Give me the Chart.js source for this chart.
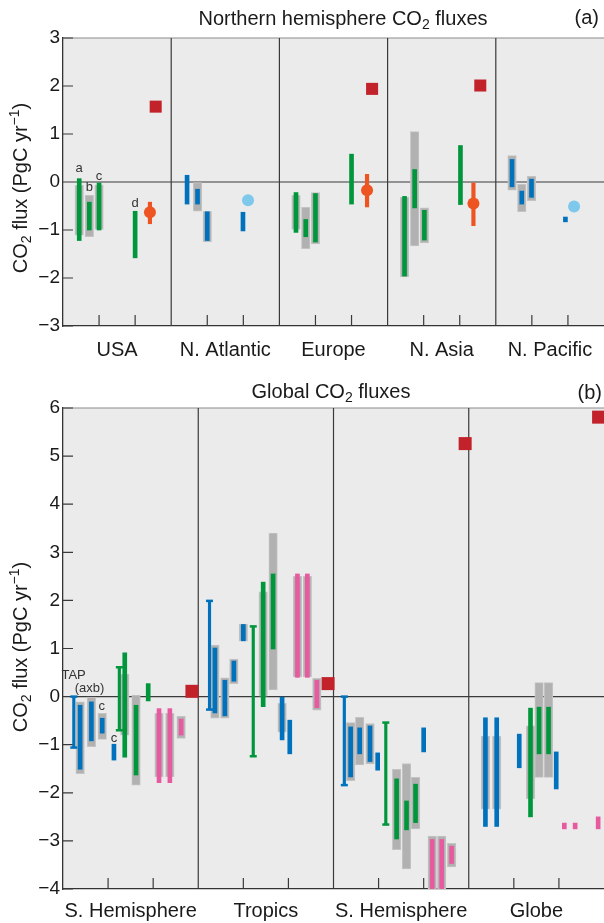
<!DOCTYPE html>
<html>
<head>
<meta charset="utf-8">
<script src="https://cdn.jsdelivr.net/npm/chart.js@4.4.1/dist/chart.umd.min.js"></script>
<style>
  body { margin: 0; background: #fff; }
  .panel { position: absolute; left: 0; width: 604px; }
  #panelA { top: 0; height: 370px; }
  #panelB { top: 370px; height: 553px; }
</style>
</head>
<body>
<div class="panel" id="panelA"><canvas id="chartA"></canvas></div>
<div class="panel" id="panelB"><canvas id="chartB"></canvas></div>
<script>
// Panel (a): rows are [x, low, high], x in thirds of a region
const regionsA = ['USA', 'N. Atlantic', 'Europe', 'N. Asia', 'N. Pacific'];
const yTicksA = [-3, -2, -1, 0, 1, 2, 3];

const grayA = [
    [0.45, -1.11, -0.07], [0.73, -1.14, -0.28], [1.0, -0.99, -0.06],
    [3.73, -0.61, 0.0], [4.0, -1.25, -0.61],
    [6.46, -0.99, -0.28], [6.73, -1.39, -0.53], [7.0, -1.29, -0.22],
    [9.47, -1.98, -0.32], [9.75, -1.33, 1.05], [10.02, -1.27, -0.54],
    [12.45, -0.17, 0.55], [12.72, -0.62, -0.05], [12.99, -0.39, 0.12]
];
const greenA = [
    [0.45, -1.22, 0.07], [0.73, -1.0, -0.42], [1.0, -1.0, -0.02], [2.0, -1.58, -0.61],
    [6.46, -1.05, -0.22], [6.73, -1.14, -0.78], [7.0, -1.25, -0.24], [8.0, -0.46, 0.58],
    [9.47, -1.96, -0.30], [9.75, -0.54, 0.26], [10.02, -1.21, -0.59], [11.02, -0.47, 0.76]
];
const blueA = [
    [3.44, -0.46, 0.14], [3.73, -0.46, -0.15], [4.0, -1.22, -0.62], [4.99, -1.02, -0.63],
    [12.45, -0.10, 0.47], [12.72, -0.46, -0.19], [12.99, -0.32, 0.06], [13.93, -0.83, -0.73]
];
// [x, value, low, high]
const orangeA = [[2.41, -0.63, -0.87, -0.42], [8.43, -0.17, -0.52, 0.16], [11.38, -0.45, -0.91, -0.02]];
// [x, value]
const redA = [[2.57, 1.57], [8.57, 1.94], [11.57, 2.01]];
const cyanA = [[5.13, -0.38], [14.17, -0.51]];
const notesA = [['a', 0.45, 0.28], ['b', 0.73, -0.11], ['c', 1.0, 0.12], ['d', 2.0, -0.44]];

// Panel (b)
const regionsB = ['S. Hemisphere', 'Tropics', 'S. Hemisphere', 'Globe'];
const yTicksB = [-4, -3, -2, -1, 0, 1, 2, 3, 4, 5, 6];

const grayB = [
    [0.38, -1.60, -0.11], [0.63, -1.04, 0.0], [0.87, -0.89, -0.35], [1.37, -0.80, 0.47], [1.62, -1.84, 0.03],
    [2.13, -1.67, -0.35], [2.37, -1.67, -0.35], [2.62, -0.87, -0.41],
    [3.37, -0.45, 1.07], [3.59, -0.45, 0.39], [3.79, 0.27, 0.78], [4.0, 1.15, 1.51],
    [4.44, 0.0, 2.18], [4.66, 0.14, 3.40], [4.86, -0.74, -0.14],
    [5.20, 0.41, 2.50], [5.42, 0.41, 2.50], [5.63, -0.28, 0.38],
    [6.38, -1.75, -0.54], [6.58, -1.42, -0.43], [6.81, -1.40, -0.56],
    [7.40, -3.18, -1.51], [7.62, -3.58, -1.39], [7.82, -2.75, -1.68],
    [8.19, -4.0, -2.90], [8.40, -4.0, -2.90], [8.62, -3.54, -3.05],
    [9.37, -2.34, -0.82], [9.62, -2.34, -0.82], [10.37, -2.12, -0.61], [10.56, -1.68, 0.29], [10.77, -1.68, 0.29]
];
const blueB = [
    [0.38, -1.51, -0.18], [0.63, -0.92, -0.11], [0.87, -0.76, -0.45], [1.13, -1.32, -0.99],
    [3.37, -0.34, 1.01], [3.59, -0.40, 0.34], [3.79, 0.32, 0.74], [4.0, 1.16, 1.50], [4.86, -0.90, 0.0], [5.03, -1.19, -0.49],
    [6.38, -1.67, -0.63], [6.58, -1.19, -0.65], [6.81, -1.35, -0.61], [6.98, -1.53, -1.17], [8.0, -1.15, -0.65],
    [9.37, -2.70, -0.44], [9.62, -2.70, -0.44], [10.12, -1.48, -0.78], [10.94, -1.92, -1.15]
];
const greenB = [
    [1.37, -1.26, 0.91], [1.62, -1.63, -0.18], [1.89, -0.09, 0.27],
    [4.44, -0.21, 2.38], [4.66, 0.99, 2.55],
    [7.40, -2.96, -1.71], [7.62, -2.77, -2.17], [7.82, -2.62, -1.82],
    [10.37, -2.50, -0.24], [10.56, -1.19, -0.22], [10.77, -1.19, -0.22]
];
const pinkB = [
    [2.13, -1.79, -0.25], [2.37, -1.79, -0.25], [2.62, -0.80, -0.47],
    [5.20, 0.40, 2.55], [5.42, 0.40, 2.55], [5.63, -0.23, 0.34],
    [8.19, -4.0, -2.97], [8.40, -4.0, -2.97], [8.62, -3.47, -3.11],
    [11.12, -2.75, -2.63], [11.36, -2.75, -2.63], [11.87, -2.75, -2.50]
];
const blueTapB = [[0.24, -1.06, 0.0], [3.25, -0.27, 1.99], [6.24, -1.84, 0.0]];
const greenTapB = [[1.25, -0.70, 0.61], [4.22, -1.24, 1.46], [7.16, -2.66, -0.54]];
const redB = [[2.86, 0.11], [5.88, 0.27], [8.92, 5.26], [11.88, 5.81]];
const notesB = [['TAP', 0.235, 0.45], ['(axb)', 0.59, 0.16], ['c', 0.86, -0.21], ['c', 1.13, -0.87]];

const FONT = '"Liberation Sans", Arial, Helvetica, sans-serif';
const INK = '#1a1a1a';
const GREEN = '#00963c';
const BLUE = '#0071bc';
const GRAY = '#b1b1b1';
const PINK = '#e85aa0';
const ORANGE = '#ee5422';
const RED = '#c2222a';
const CYAN = '#7dc8eb';

const yTitle = [{t: 'CO'}, {t: '2', sub: true}, {t: ' flux (PgC yr'}, {t: '\u22121', sup: true}, {t: ')'}];

function partFont(p, size) {
    return ((p.sub || p.sup) ? Math.round(size * 0.68) : size) + 'px ' + FONT;
}

// text with sub/superscripts
function drawRich(ctx, parts, x, y, size, align) {
    let w = 0;
    parts.forEach(p => { ctx.font = partFont(p, size); w += ctx.measureText(p.t).width; });
    let cx = align === 'center' ? x - w / 2 : (align === 'right' ? x - w : x);
    ctx.textAlign = 'left';
    ctx.textBaseline = 'alphabetic';
    parts.forEach(p => {
        ctx.font = partFont(p, size);
        const dy = p.sub ? size * 0.2 : (p.sup ? -size * 0.4 : 0);
        ctx.fillText(p.t, cx, y + dy);
        cx += ctx.measureText(p.t).width;
    });
}

const framePlugin = {
    id: 'frame',
    beforeDraw(chart) {
        const {ctx, chartArea: a} = chart;
        ctx.save();
        ctx.fillStyle = '#ebebeb';
        ctx.fillRect(a.left, a.top, a.right - a.left, a.bottom - a.top);
        ctx.restore();
    },
    beforeDatasetsDraw(chart, args, opts) {
        const {ctx, chartArea: a, scales: {x, y}} = chart;
        const n = opts.regions.length;
        ctx.save();
        ctx.strokeStyle = '#8c8c8c';
        ctx.lineWidth = 1.2;
        ctx.beginPath();
        ctx.moveTo(a.left, a.top);
        ctx.lineTo(a.right, a.top);
        ctx.stroke();

        ctx.strokeStyle = '#3a3a3a';
        ctx.lineWidth = 1.2;
        ctx.beginPath();
        for (let i = 1; i < n; i++) {
            const px = x.getPixelForValue(3 * i);
            ctx.moveTo(px, a.top);
            ctx.lineTo(px, a.bottom);
        }
        const y0 = y.getPixelForValue(0);
        ctx.moveTo(a.left, y0);
        ctx.lineTo(a.right, y0);
        // inward ticks
        y.ticks.forEach(t => {
            const py = y.getPixelForValue(t.value);
            ctx.moveTo(a.left, py);
            ctx.lineTo(a.left + 10, py);
        });
        for (let v = 1; v < 3 * n; v++) {
            if (v % 3 === 0) continue;
            const px = x.getPixelForValue(v);
            ctx.moveTo(px, a.bottom);
            ctx.lineTo(px, a.bottom - 11);
        }
        ctx.stroke();
        ctx.restore();
    },
    afterDraw(chart, args, opts) {
        const {ctx, scales: {x, y}} = chart;
        ctx.save();
        ctx.fillStyle = INK;
        drawRich(ctx, opts.title, opts.titleX, opts.titleY, 20, 'center');
        drawRich(ctx, [{t: opts.tag}], opts.tagX, opts.tagY, 20, 'right');
        opts.regions.forEach((r, i) => {
            drawRich(ctx, [{t: r}], x.getPixelForValue(3 * i + 1.5), opts.labelY, 20, 'center');
        });

        ctx.save();
        ctx.translate(27, opts.yTitleY);
        ctx.rotate(-Math.PI / 2);
        drawRich(ctx, yTitle, 0, 0, 20, 'center');
        ctx.restore();

        ctx.textAlign = 'center';
        ctx.textBaseline = 'middle';
        ctx.fillStyle = '#333';
        opts.notes.forEach(nt => {
            ctx.font = '13px ' + FONT;
            ctx.fillText(nt[0], x.getPixelForValue(nt[1]), y.getPixelForValue(nt[2]));
        });
        ctx.restore();
    }
};

function barSet(rows, color, width, order, edge) {
    return {
        type: 'bar',
        data: rows.map(r => ({x: r[0], y: [r[1], r[2]]})),
        backgroundColor: color,
        borderColor: edge || color,
        borderWidth: edge ? 1 : 0,
        borderSkipped: false,
        barThickness: width,
        stack: 'all',
        order: order
    };
}

function pointSet(rows, color, style, radius, order) {
    return {
        type: 'scatter',
        data: rows.map(r => ({x: r[0], y: r[1]})),
        pointStyle: style,
        pointRadius: radius,
        backgroundColor: color,
        borderColor: color,
        borderWidth: 0,
        order: order
    };
}

function capSet(rows, color, order) {
    return {
        type: 'scatter',
        data: rows.flatMap(r => [{x: r[0], y: r[1]}, {x: r[0], y: r[2]}]),
        pointStyle: 'line',
        pointRadius: 3.5,
        borderColor: color,
        borderWidth: 2.5,
        order: order
    };
}

function makeOptions(regions, yTicks, xHeight, frame) {
    return {
        responsive: true,
        maintainAspectRatio: false,
        animation: false,
        events: [],
        layout: { autoPadding: false, padding: { top: 38, left: 0, right: 0, bottom: 0 } },
        plugins: {
            legend: { display: false },
            tooltip: { enabled: false },
            frame: Object.assign({ regions: regions }, frame)
        },
        scales: {
            x: {
                type: 'linear',
                min: 0,
                max: regions.length * 3,
                offset: false,
                ticks: { display: false },
                grid: { drawOnChartArea: false, drawTicks: false },
                border: { display: true, color: '#333', width: 1.3 },
                afterFit: s => { s.height = xHeight; }
            },
            y: {
                type: 'linear',
                min: yTicks[0],
                max: yTicks[yTicks.length - 1],
                stacked: false,
                afterBuildTicks: s => { s.ticks = yTicks.map(v => ({value: v})); },
                ticks: {
                    color: INK,
                    padding: 3,
                    font: { family: FONT, size: 19 },
                    callback: v => v < 0 ? '\u2212' + (-v) : String(v)
                },
                grid: { drawOnChartArea: false, drawTicks: false },
                border: { display: true, color: '#333', width: 1.3 },
                afterFit: s => { s.width = 63; }
            }
        }
    };
}

new Chart(document.getElementById('chartA'), {
    type: 'bar',
    data: {
        datasets: [
            barSet(grayA, GRAY, 8.5, 5, '#c4c4c4'),
            barSet(greenA, GREEN, 4, 4),
            barSet(blueA, BLUE, 4, 4),
            barSet(orangeA.map(r => [r[0], r[2], r[3]]), ORANGE, 3.5, 3),
            pointSet(orangeA, ORANGE, 'circle', 6, 2),
            pointSet(redA, RED, 'rect', 8.5, 2),
            pointSet(cyanA, CYAN, 'circle', 6, 2)
        ]
    },
    options: makeOptions(regionsA, yTicksA, 44, {
        title: [{t: 'Northern hemisphere CO'}, {t: '2', sub: true}, {t: ' fluxes'}],
        titleX: 343, titleY: 25,
        tag: '(a)', tagX: 599, tagY: 24,
        labelY: 356,
        yTitleY: 188,
        notes: notesA
    }),
    plugins: [framePlugin]
});

new Chart(document.getElementById('chartB'), {
    type: 'bar',
    data: {
        datasets: [
            barSet(grayB, GRAY, 8.5, 5, '#c4c4c4'),
            barSet(blueB, BLUE, 4, 4),
            barSet(greenB, GREEN, 4, 4),
            barSet(pinkB, PINK, 4, 4),
            barSet(blueTapB, BLUE, 2.5, 3),
            barSet(greenTapB, GREEN, 2.5, 3),
            capSet(blueTapB, BLUE, 2),
            capSet(greenTapB, GREEN, 2),
            pointSet(redB, RED, 'rect', 9.2, 1)
        ]
    },
    options: makeOptions(regionsB, yTicksB, 34, {
        title: [{t: 'Global CO'}, {t: '2', sub: true}, {t: ' fluxes'}],
        titleX: 331, titleY: 28,
        tag: '(b)', tagX: 602, tagY: 29,
        labelY: 547,
        yTitleY: 277,
        notes: notesB
    }),
    plugins: [framePlugin]
});
</script>
</body>
</html>
